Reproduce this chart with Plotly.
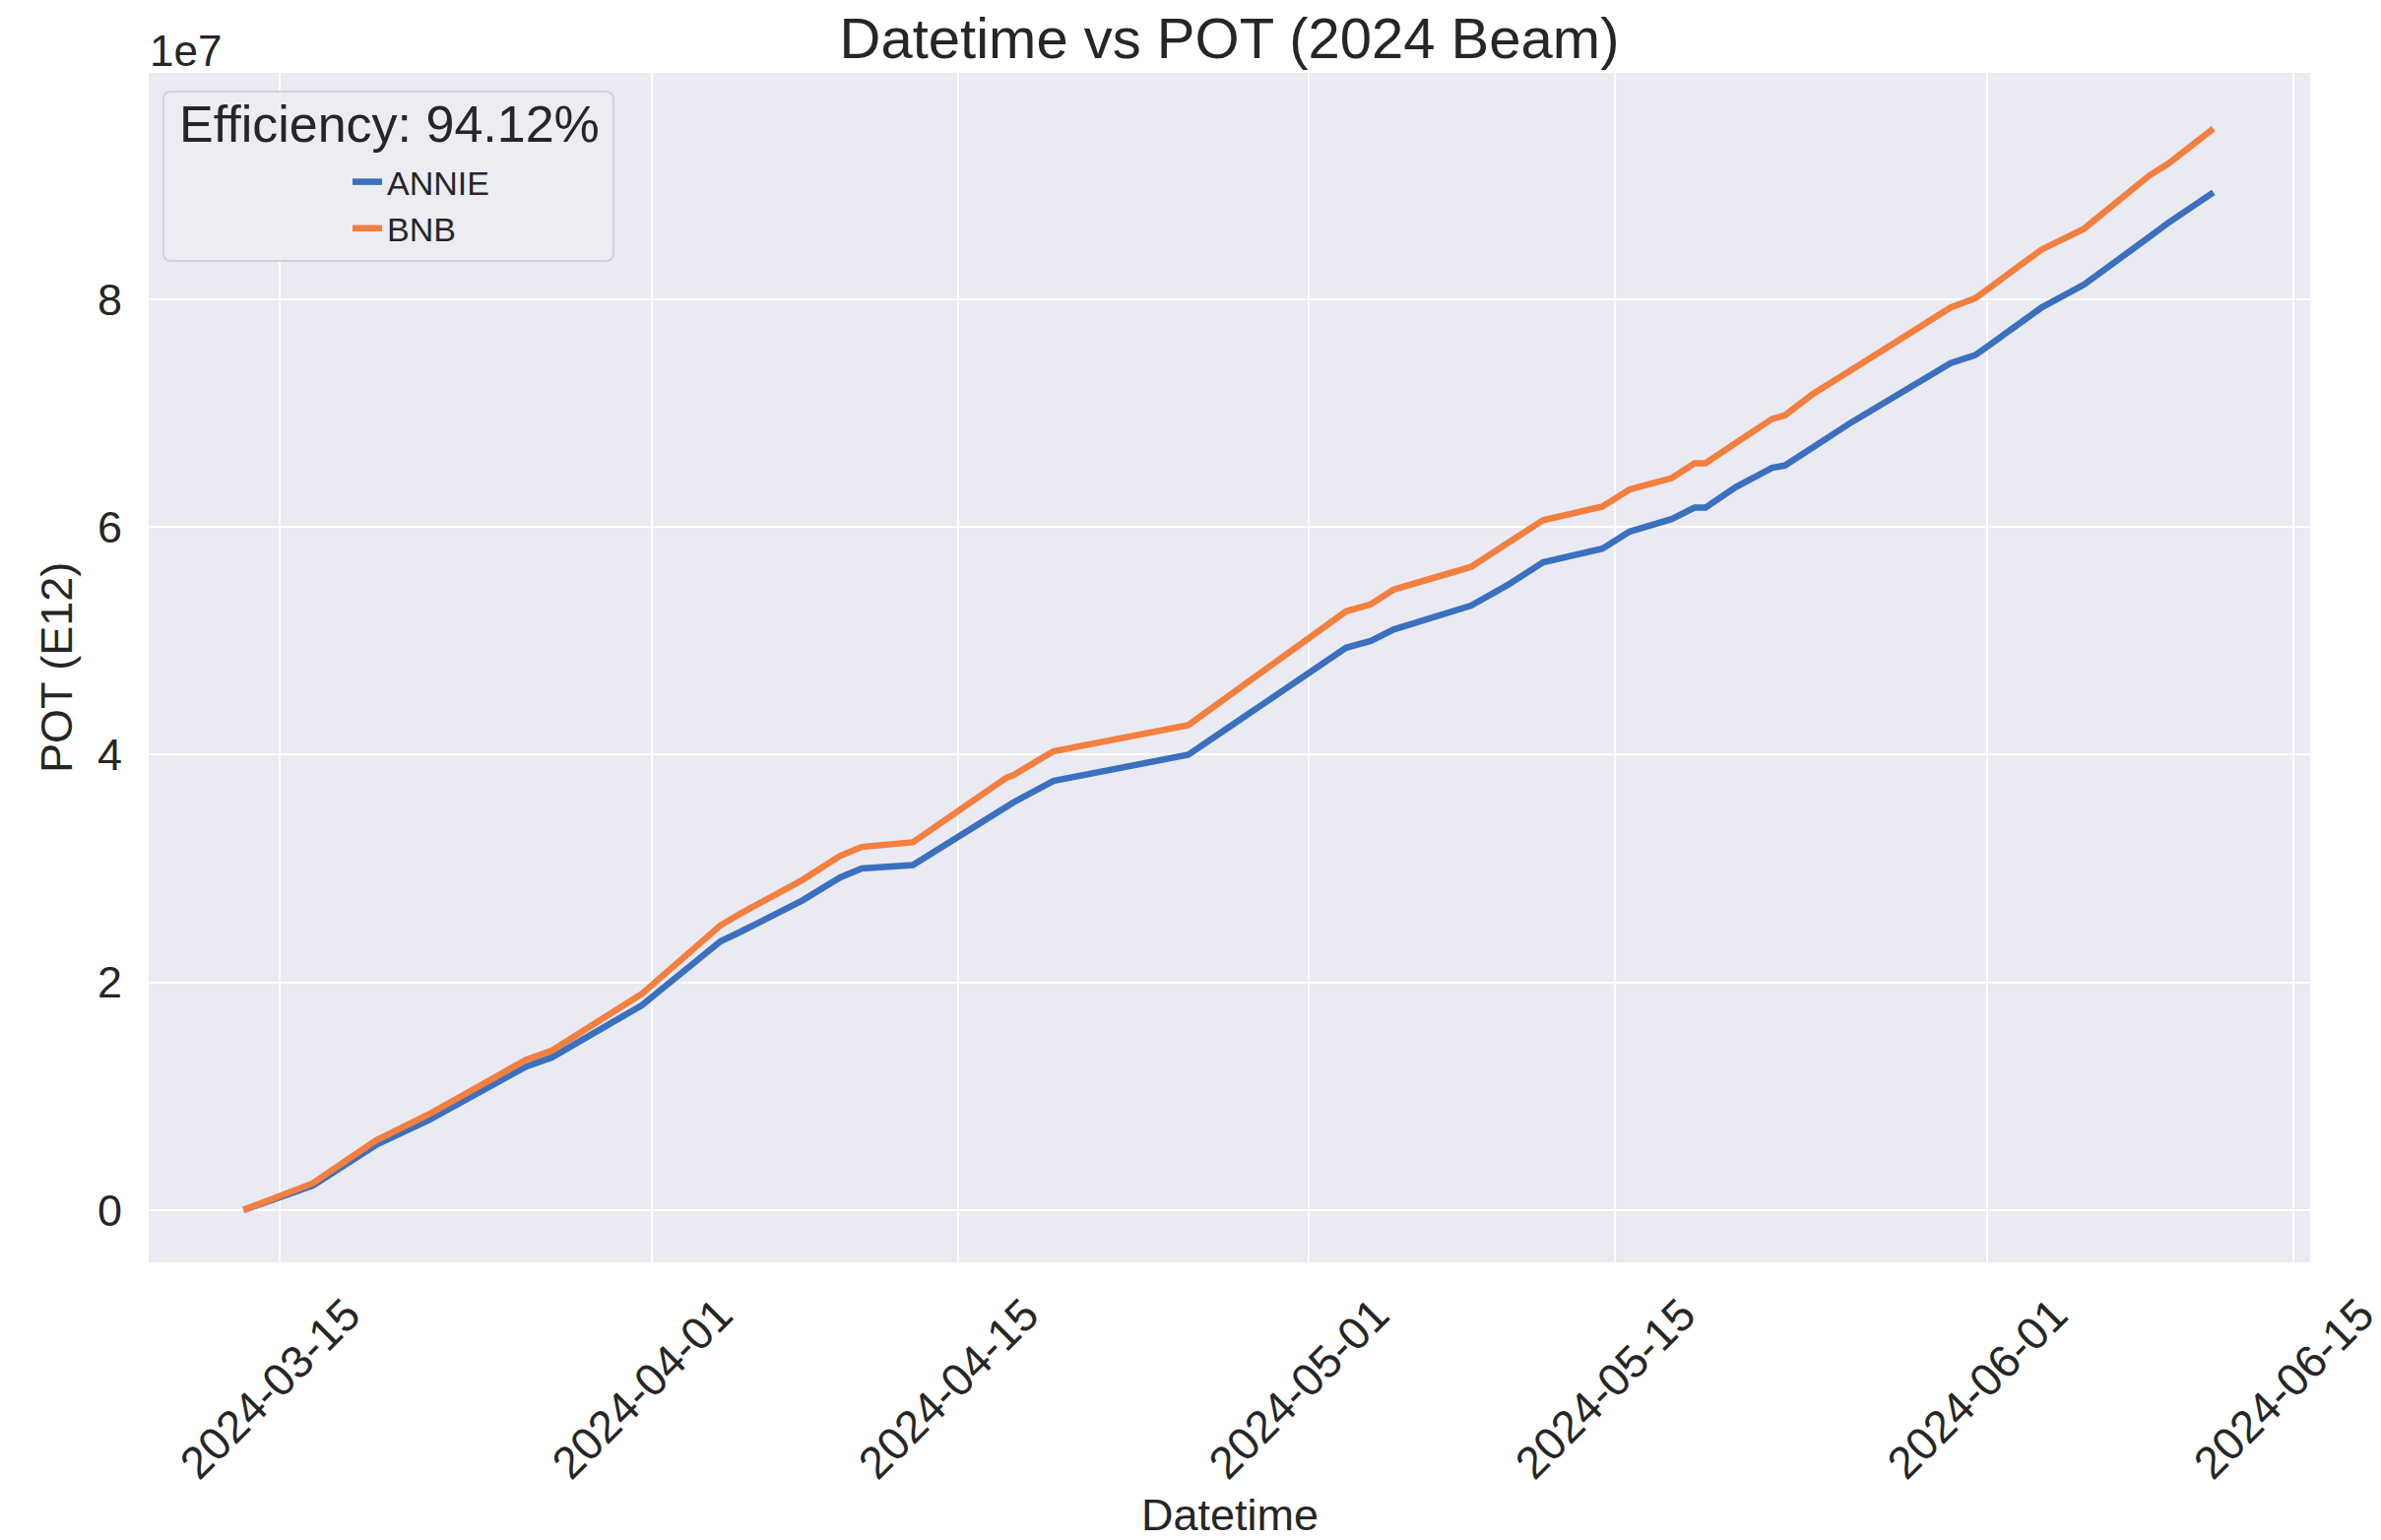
import plotly.graph_objects as go

# ---- data (POT in units of E12) ----
dates = [
    "2024-03-13 08:00", "2024-03-16 12:00", "2024-03-19 09:00", "2024-03-21 19:00",
    "2024-03-26 06:00", "2024-03-27 10:00", "2024-03-31 13:00", "2024-04-04 03:00",
    "2024-04-05 00:00", "2024-04-07 21:00", "2024-04-09 14:00", "2024-04-10 14:00",
    "2024-04-12 22:00", "2024-04-17 05:00", "2024-04-17 12:00", "2024-04-19 08:00",
    "2024-04-25 12:00", "2024-05-02 17:00", "2024-05-03 20:00", "2024-05-04 21:00",
    "2024-05-08 10:00", "2024-05-10 02:00", "2024-05-11 17:00", "2024-05-14 10:00",
    "2024-05-15 16:00", "2024-05-17 14:00", "2024-05-18 15:00", "2024-05-19 03:00",
    "2024-05-20 12:00", "2024-05-22 04:00", "2024-05-22 18:00", "2024-05-24 01:00",
    "2024-05-25 19:00", "2024-05-30 08:00", "2024-05-31 11:00", "2024-06-03 12:00",
    "2024-06-05 10:00", "2024-06-08 10:00", "2024-06-09 06:00", "2024-06-11 08:00",
]
annie_pot = [
    0.00e7, 0.215e7, 0.57e7, 0.79e7,
    1.26e7, 1.34e7, 1.80e7, 2.36e7,
    2.44e7, 2.72e7, 2.92e7, 3.00e7,
    3.03e7, 3.56e7, 3.58e7, 3.77e7,
    4.00e7, 4.94e7, 5.00e7, 5.10e7,
    5.31e7, 5.49e7, 5.69e7, 5.81e7,
    5.96e7, 6.07e7, 6.17e7, 6.17e7,
    6.35e7, 6.52e7, 6.54e7, 6.70e7,
    6.92e7, 7.44e7, 7.51e7, 7.93e7,
    8.13e7, 8.55e7, 8.67e7, 8.94e7,
]
bnb_pot = [
    0.00e7, 0.235e7, 0.61e7, 0.84e7,
    1.32e7, 1.40e7, 1.90e7, 2.50e7,
    2.60e7, 2.90e7, 3.11e7, 3.19e7,
    3.23e7, 3.80e7, 3.82e7, 4.03e7,
    4.26e7, 5.26e7, 5.32e7, 5.45e7,
    5.65e7, 5.86e7, 6.06e7, 6.18e7,
    6.33e7, 6.43e7, 6.56e7, 6.56e7,
    6.74e7, 6.95e7, 6.98e7, 7.17e7,
    7.38e7, 7.93e7, 8.01e7, 8.44e7,
    8.62e7, 9.09e7, 9.19e7, 9.50e7,
]
x_ticks = ["2024-03-15", "2024-04-01", "2024-04-15", "2024-05-01",
           "2024-05-15", "2024-06-01", "2024-06-15"]
y_ticks = [0, 2e7, 4e7, 6e7, 8e7]
y_tick_labels = ["0", "2", "4", "6", "8"]
efficiency_label = "Efficiency: 94.12%"

FONT = "Liberation Sans, Arial, sans-serif"
TXT = "#262626"
W, H = 2418, 1564
L, R, T, B = 151, 2346, 74, 1282   # plot area in pixels
PW, PH = R - L, B - T


def px(x):
    return (x - L) / PW


def py(y):
    return (B - y) / PH


fig = go.Figure()
fig.add_trace(go.Scatter(x=dates, y=annie_pot, mode="lines", name="ANNIE",
                         line=dict(color="#3a70bf", width=6.5)))
fig.add_trace(go.Scatter(x=dates, y=bnb_pot, mode="lines", name="BNB",
                         line=dict(color="#f47f3e", width=6.5)))

# rounded legend frame
x0, x1, y0, y1 = px(166), px(623), py(265), py(93)
rx, ry = 8 / PW, 8 / PH
path = (f"M {x0+rx},{y0} L {x1-rx},{y0} Q {x1},{y0} {x1},{y0+ry} "
        f"L {x1},{y1-ry} Q {x1},{y1} {x1-rx},{y1} L {x0+rx},{y1} "
        f"Q {x0},{y1} {x0},{y1-ry} L {x0},{y0+ry} Q {x0},{y0} {x0+rx},{y0} Z")
fig.add_shape(type="path", path=path, xref="paper", yref="paper",
              fillcolor="rgba(236,236,243,0.85)", line=dict(color="#d2d2d9", width=2),
              layer="above")

fig.update_layout(
    width=W, height=H,
    margin=dict(l=L, r=W - R, t=T, b=H - B, pad=0, autoexpand=False),
    paper_bgcolor="white", plot_bgcolor="#eaeaf2",
    font=dict(family=FONT, color=TXT),
    title=dict(text="Datetime vs POT (2024 Beam)", x=0.5, xref="paper",
               xanchor="center", y=1 - 39 / H, yref="container", yanchor="middle",
               font=dict(size=58, family=FONT, color=TXT)),
    xaxis=dict(range=["2024-03-09 00:00", "2024-06-15 18:00"],
               tickmode="array", tickvals=x_ticks, ticktext=x_ticks,
               tickangle=-45, tickfont=dict(size=46, family=FONT, color=TXT),
               showgrid=True, gridcolor="white", gridwidth=2,
               zeroline=False, showline=False, ticks="",
               ticklabelshift=68, ticklabelstandoff=16,
               ticklabeloverflow="allow", automargin=False),
    yaxis=dict(range=[-0.46e7, 9.99e7], tickmode="array",
               tickvals=y_ticks, ticktext=y_tick_labels,
               tickfont=dict(size=45, family=FONT, color=TXT),
               showgrid=True, gridcolor="white", gridwidth=2,
               zeroline=False, showline=False, ticks="",
               ticklabelstandoff=26, automargin=False),
    showlegend=True,
    legend=dict(x=px(353), xanchor="left", y=py(156), yanchor="top",
                bgcolor="rgba(0,0,0,0)", borderwidth=0,
                font=dict(size=34, family=FONT, color=TXT)),
    annotations=[
        dict(text="1e7", x=px(150), xref="paper", xanchor="left", y=py(51), yref="paper",
             yanchor="middle", showarrow=False, font=dict(size=44, family=FONT, color=TXT)),
        dict(text="POT (E12)", x=px(57), xref="paper", xanchor="center", y=0.5,
             yref="paper", yanchor="middle", textangle=-90, showarrow=False,
             font=dict(size=45, family=FONT, color=TXT)),
        dict(text="Datetime", x=0.5, xref="paper", xanchor="center", y=py(1538),
             yref="paper", yanchor="middle", showarrow=False,
             font=dict(size=45, family=FONT, color=TXT)),
        dict(text=efficiency_label, x=px(180), xref="paper", xanchor="left",
             y=py(126), yref="paper", yanchor="middle", showarrow=False,
             font=dict(size=52, family=FONT, color=TXT)),
    ],
)

fig.write_html("out.html",
               config={"displayModeBar": False},
               post_script="document.body.style.margin='0px';")
